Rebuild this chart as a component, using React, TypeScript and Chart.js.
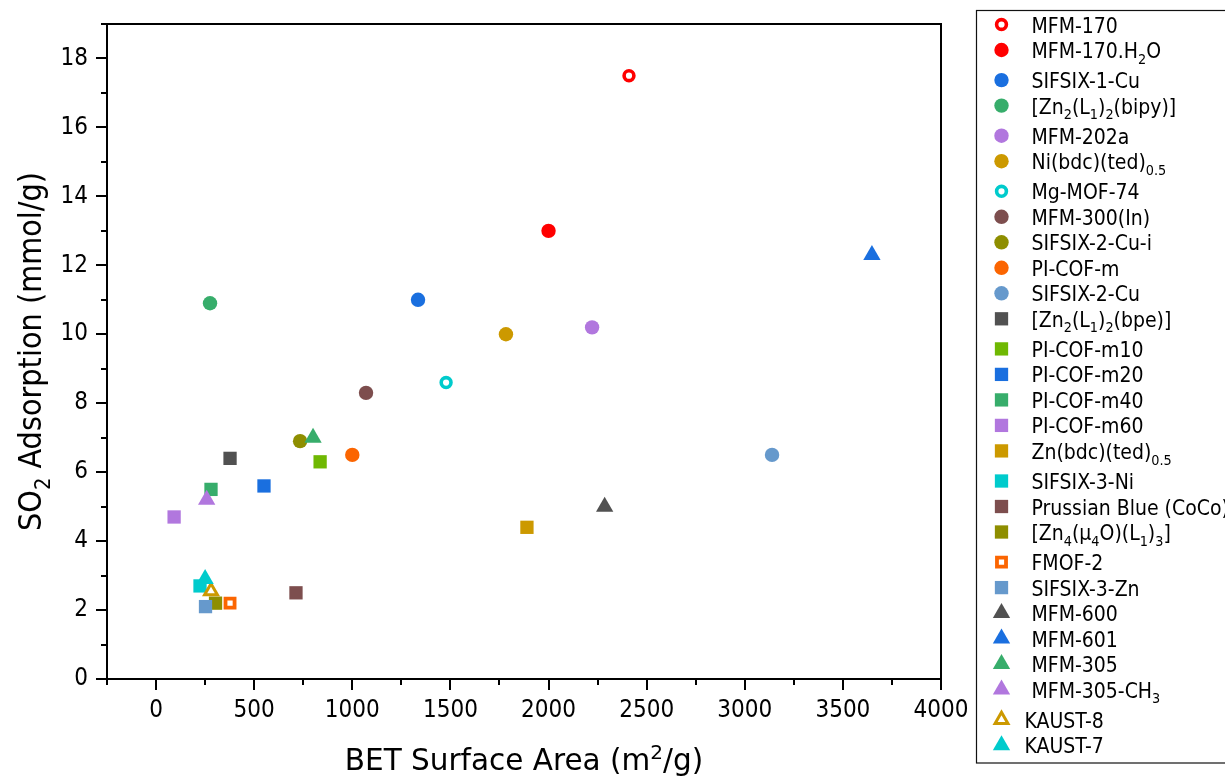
import React, { useEffect, useRef } from 'react';
import { Chart, registerables } from 'chart.js';

Chart.register(...registerables);

// ---------- data ----------
const legendLabels: string[] = [
  'MFM-170', 'MFM-170.H_{2}O', 'SIFSIX-1-Cu', '[Zn_{2}(L_{1})_{2}(bipy)]', 'MFM-202a',
  'Ni(bdc)(ted)_{0.5}', 'Mg-MOF-74', 'MFM-300(In)', 'SIFSIX-2-Cu-i', 'PI-COF-m',
  'SIFSIX-2-Cu', '[Zn_{2}(L_{1})_{2}(bpe)]', 'PI-COF-m10', 'PI-COF-m20', 'PI-COF-m40',
  'PI-COF-m60', 'Zn(bdc)(ted)_{0.5}', 'SIFSIX-3-Ni', 'Prussian Blue (CoCo)', '[Zn_{4}(μ_{4}O)(L_{1})_{3}]',
  'FMOF-2', 'SIFSIX-3-Zn', 'MFM-600', 'MFM-601', 'MFM-305',
  'MFM-305-CH_{3}', 'KAUST-8', 'KAUST-7',
];
const betSurfaceArea: number[] = [
  2410, 2000, 1335, 275, 2222,
  1783, 1478, 1070, 734, 1000,
  3139, 377, 836, 550, 280,
  92, 1890, 224, 713, 303,
  377, 252, 2286, 3648, 800,
  258, 280, 250,
];
const so2Adsorption: number[] = [
  17.5, 13.0, 11.0, 10.9, 10.2,
  10.0, 8.6, 8.3, 6.9, 6.5,
  6.5, 6.4, 6.3, 5.6, 5.5,
  4.7, 4.4, 2.7, 2.5, 2.2,
  2.2, 2.1, 5.0, 12.3, 7.0,
  5.2, 2.55, 2.9,
];
const markerColors: string[] = [
  '#FF0000', '#FF0000', '#1A6FDF', '#37AD6B', '#B177DE',
  '#CC9900', '#00CBCC', '#7D4E4E', '#8E8E00', '#FB6501',
  '#6699CC', '#515151', '#6FB802', '#1A6FDF', '#37AD6B',
  '#B177DE', '#CC9900', '#00CBCC', '#7D4E4E', '#8E8E00',
  '#FB6501', '#6699CC', '#515151', '#1A6FDF', '#37AD6B',
  '#B177DE', '#CC9900', '#00CBCC',
];
const markerShapes: string[] = [
  'circle', 'circle', 'circle', 'circle', 'circle',
  'circle', 'circle', 'circle', 'circle', 'circle',
  'circle', 'rect', 'rect', 'rect', 'rect',
  'rect', 'rect', 'rect', 'rect', 'rect',
  'rect', 'rect', 'triangle', 'triangle', 'triangle',
  'triangle', 'triangle', 'triangle',
];
const hollowMarkers: boolean[] = [
  true, false, false, false, false,
  false, true, false, false, false,
  false, false, false, false, false,
  false, false, false, false, false,
  true, false, false, false, false,
  false, true, false,
];
const xTickValues: number[] = [0, 500, 1000, 1500, 2000, 2500, 3000, 3500, 4000];
const yTickValues: number[] = [0, 2, 4, 6, 8, 10, 12, 14, 16, 18];
const xAxisTitle = 'BET Surface Area (m^{2}/g)';
const yAxisTitle = 'SO_{2} Adsorption (mmol/g)';

// ---------- styling helpers ----------
const FONT = "'DejaVu Sans', 'Noto Sans', sans-serif";
const FONT_C = "'DejaVu Sans Condensed', 'DejaVu Sans', sans-serif";

function markerStyle(shape: string, hollow: boolean) {
  if (shape === 'circle') return hollow ? { r: 4.9, bw: 3.6 } : { r: 7.2, bw: 0 };
  if (shape === 'rect') return hollow ? { r: 6.4, bw: 3.8 } : { r: 9.4, bw: 0 };
  return hollow ? { r: 7.4, bw: 3 } : { r: 10, bw: 0 };
}

type Seg = { t: string; m: 'n' | 'sub' | 'sup' };
function parseRich(s: string): Seg[] {
  const segs: Seg[] = [];
  let buf = '';
  let i = 0;
  while (i < s.length) {
    const c = s[i];
    if ((c === '_' || c === '^') && s[i + 1] === '{') {
      if (buf) { segs.push({ t: buf, m: 'n' }); buf = ''; }
      const end = s.indexOf('}', i);
      segs.push({ t: s.slice(i + 2, end), m: c === '_' ? 'sub' : 'sup' });
      i = end + 1;
    } else {
      buf += c;
      i++;
    }
  }
  if (buf) segs.push({ t: buf, m: 'n' });
  return segs;
}

function segFont(m: string, size: number, family: string) {
  return `${m === 'n' ? size : Math.round(size * 0.68 * 10) / 10}px ${family}`;
}

function richWidth(ctx: CanvasRenderingContext2D, s: string, size: number, family: string) {
  let w = 0;
  for (const sg of parseRich(s)) {
    ctx.font = segFont(sg.m, size, family);
    w += ctx.measureText(sg.t).width;
  }
  return w;
}

function drawRich(ctx: CanvasRenderingContext2D, s: string, x: number, y: number, size: number, align: 'left' | 'center', family: string) {
  let cx = align === 'center' ? x - richWidth(ctx, s, size, family) / 2 : x;
  ctx.textAlign = 'left';
  ctx.textBaseline = 'alphabetic';
  for (const sg of parseRich(s)) {
    ctx.font = segFont(sg.m, size, family);
    const dy = sg.m === 'sub' ? size * 0.27 : sg.m === 'sup' ? -size * 0.38 : 0;
    ctx.fillText(sg.t, cx, y + dy);
    cx += ctx.measureText(sg.t).width;
  }
}

function drawMarker(ctx: CanvasRenderingContext2D, shape: string, hollow: boolean, color: string, x: number, y: number) {
  const { r, bw } = markerStyle(shape, hollow);
  ctx.save();
  ctx.beginPath();
  if (shape === 'circle') {
    ctx.arc(x, y, r, 0, Math.PI * 2);
  } else if (shape === 'rect') {
    const h = r * Math.SQRT1_2;
    ctx.rect(x - h, y - h, 2 * h, 2 * h);
  } else {
    let a = 0;
    ctx.moveTo(x + Math.sin(a) * r, y - Math.cos(a) * r);
    a += (2 * Math.PI) / 3;
    ctx.lineTo(x + Math.sin(a) * r, y - Math.cos(a) * r);
    a += (2 * Math.PI) / 3;
    ctx.lineTo(x + Math.sin(a) * r, y - Math.cos(a) * r);
    ctx.closePath();
  }
  ctx.fillStyle = hollow ? '#ffffff' : color;
  ctx.fill();
  if (bw > 0) {
    ctx.lineWidth = bw;
    ctx.strokeStyle = color;
    ctx.stroke();
  }
  ctx.restore();
}

const framePlugin = {
  id: 'frameAndDecor',
  afterDraw(chart: any) {
    const { ctx, chartArea } = chart;
    const xs = chart.scales.x;
    const ys = chart.scales.y;
    ctx.save();
    // frame
    ctx.strokeStyle = '#000';
    ctx.lineWidth = 2;
    ctx.strokeRect(chartArea.left, chartArea.top, chartArea.right - chartArea.left, chartArea.bottom - chartArea.top);
    // x ticks (major + minor)
    for (let v = xs.min; v <= xs.max + 1e-6; v += 250) {
      const px = Math.round(xs.getPixelForValue(v));
      const len = xTickValues.includes(v) ? 11 : 6;
      ctx.beginPath();
      ctx.moveTo(px, chartArea.bottom);
      ctx.lineTo(px, chartArea.bottom + len);
      ctx.stroke();
    }
    for (let v = ys.min; v <= ys.max + 1e-6; v += 1) {
      const py = Math.round(ys.getPixelForValue(v));
      const len = yTickValues.includes(v) ? 11 : 6;
      ctx.beginPath();
      ctx.moveTo(chartArea.left, py);
      ctx.lineTo(chartArea.left - len, py);
      ctx.stroke();
    }
    // axis titles
    ctx.fillStyle = '#000';
    drawRich(ctx, xAxisTitle, (chartArea.left + chartArea.right) / 2, 770, 29.5, 'center', FONT);
    ctx.save();
    ctx.translate(41, (chartArea.top + chartArea.bottom) / 2);
    ctx.rotate(-Math.PI / 2);
    drawRich(ctx, yAxisTitle, 0, 0, 32, 'center', FONT_C);
    ctx.restore();

    // legend
    ctx.lineWidth = 1.2;
    ctx.strokeStyle = '#111';
    ctx.strokeRect(976.5, 10.5, 260, 752.5);
    let rowY = 24.5;
    legendLabels.forEach((lab, i) => {
      drawMarker(ctx, markerShapes[i], hollowMarkers[i], markerColors[i], 1001.5, rowY);
      ctx.fillStyle = '#000';
      const indent = lab.startsWith('KAUST') ? -7 : 0;
      drawRich(ctx, lab, 1031.5 + indent, rowY + 8, 21, 'left', FONT_C);
      rowY += 25.5 + (lab.includes('_{') ? 4.6 : 0);
    });
    ctx.restore();
  },
};

export default function App() {
  const canvasRef = useRef<HTMLCanvasElement | null>(null);

  useEffect(() => {
    const canvas = canvasRef.current;
    if (!canvas) return;
    const datasets = legendLabels.map((lab, i) => {
      const st = markerStyle(markerShapes[i], hollowMarkers[i]);
      return {
        label: lab,
        data: [{ x: betSurfaceArea[i], y: so2Adsorption[i] }],
        pointStyle: markerShapes[i] as any,
        pointRadius: st.r,
        pointHoverRadius: st.r,
        pointBorderWidth: st.bw,
        borderWidth: st.bw,
        backgroundColor: hollowMarkers[i] ? '#ffffff' : markerColors[i],
        borderColor: markerColors[i],
        order: legendLabels.length - i,
        showLine: false,
      };
    });

    const chart = new Chart(canvas, {
      type: 'scatter',
      data: { datasets },
      options: {
        animation: false,
        responsive: false,
        events: [],
        layout: { padding: { top: 24, right: 284, left: 0, bottom: 0 } },
        plugins: {
          legend: { display: false },
          tooltip: { enabled: false },
          title: { display: false },
        },
        scales: {
          x: {
            type: 'linear',
            min: -250,
            max: 4000,
            afterFit(scale: any) {
              scale.height = 99;
              scale.paddingLeft = 0;
              scale.paddingRight = 0;
            },
            grid: { display: false, drawTicks: false },
            border: { display: false },
            ticks: {
              stepSize: 250,
              autoSkip: false,
              maxRotation: 0,
              padding: 17,
              color: '#000',
              font: { family: FONT_C, size: 24 },
              callback: (v: any) => (xTickValues.includes(Number(v)) ? String(v) : ''),
            },
          },
          y: {
            type: 'linear',
            min: 0,
            max: 19,
            afterFit(scale: any) {
              scale.width = 107;
              scale.paddingTop = 0;
              scale.paddingBottom = 0;
            },
            grid: { display: false, drawTicks: false },
            border: { display: false },
            ticks: {
              stepSize: 1,
              autoSkip: false,
              padding: 19,
              color: '#000',
              font: { family: FONT_C, size: 24 },
              callback: (v: any) => (yTickValues.includes(Number(v)) ? String(v) : ''),
            },
          },
        },
      } as any,
      plugins: [framePlugin],
    });
    return () => chart.destroy();
  }, []);

  return (
    <div style={{ position: 'fixed', left: 0, top: 0, width: 1225, height: 778, background: '#ffffff' }}>
      <canvas ref={canvasRef} width={1225} height={778} style={{ display: 'block' }} />
    </div>
  );
}
